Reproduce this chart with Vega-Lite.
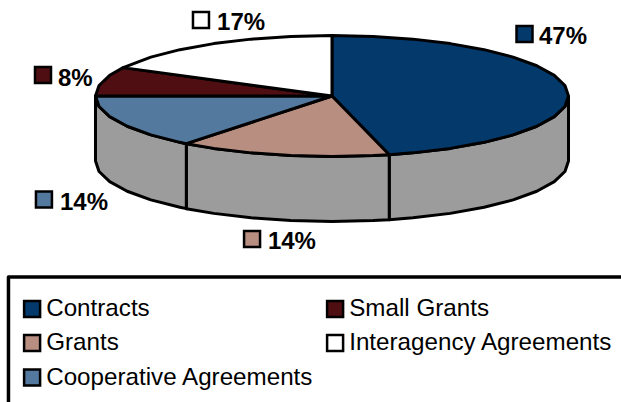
{"$schema":"https://vega.github.io/schema/vega-lite/v6.json","width":621,"height":402,"autosize":{"type":"none"},"padding":0,"background":"#ffffff","view":{"stroke":null},
"datasets":{
"walls":[
{"w":"A","s":1,"u":1,"v":0},{"w":"A","s":2,"u":0.985,"v":-0.174},{"w":"A","s":3,"u":0.94,"v":-0.342},{"w":"A","s":4,"u":0.866,"v":-0.5},{"w":"A","s":5,"u":0.766,"v":-0.643},{"w":"A","s":6,"u":0.643,"v":-0.766},{"w":"A","s":7,"u":0.5,"v":-0.866},{"w":"A","s":8,"u":0.342,"v":-0.94},{"w":"A","s":9,"u":0.242,"v":-0.97},
{"w":"A","s":10,"u":0.242,"v":-2.044},{"w":"A","s":11,"u":0.342,"v":-2.014},{"w":"A","s":12,"u":0.5,"v":-1.94},{"w":"A","s":13,"u":0.643,"v":-1.84},{"w":"A","s":14,"u":0.766,"v":-1.717},{"w":"A","s":15,"u":0.866,"v":-1.574},{"w":"A","s":16,"u":0.94,"v":-1.416},{"w":"A","s":17,"u":0.985,"v":-1.248},{"w":"A","s":18,"u":1,"v":-1.074},{"w":"A","s":19,"u":1,"v":0},
{"w":"B","s":1,"u":0.242,"v":-0.97},{"w":"B","s":2,"u":0.174,"v":-0.985},{"w":"B","s":3,"u":0,"v":-1},{"w":"B","s":4,"u":-0.174,"v":-0.985},{"w":"B","s":5,"u":-0.342,"v":-0.94},{"w":"B","s":6,"u":-0.5,"v":-0.866},{"w":"B","s":7,"u":-0.616,"v":-0.788},
{"w":"B","s":8,"u":-0.616,"v":-1.862},{"w":"B","s":9,"u":-0.5,"v":-1.94},{"w":"B","s":10,"u":-0.342,"v":-2.014},{"w":"B","s":11,"u":-0.174,"v":-2.059},{"w":"B","s":12,"u":0,"v":-2.074},{"w":"B","s":13,"u":0.174,"v":-2.059},{"w":"B","s":14,"u":0.242,"v":-2.044},{"w":"B","s":15,"u":0.242,"v":-0.97},
{"w":"C","s":1,"u":-0.616,"v":-0.788},{"w":"C","s":2,"u":-0.643,"v":-0.766},{"w":"C","s":3,"u":-0.766,"v":-0.643},{"w":"C","s":4,"u":-0.866,"v":-0.5},{"w":"C","s":5,"u":-0.94,"v":-0.342},{"w":"C","s":6,"u":-0.985,"v":-0.174},{"w":"C","s":7,"u":-1,"v":0},
{"w":"C","s":8,"u":-1,"v":-1.074},{"w":"C","s":9,"u":-0.985,"v":-1.248},{"w":"C","s":10,"u":-0.94,"v":-1.416},{"w":"C","s":11,"u":-0.866,"v":-1.574},{"w":"C","s":12,"u":-0.766,"v":-1.717},{"w":"C","s":13,"u":-0.643,"v":-1.84},{"w":"C","s":14,"u":-0.616,"v":-1.862},{"w":"C","s":15,"u":-0.616,"v":-0.788}
],
"slices":[
{"c":"Contracts","s":0,"u":0,"v":0},{"c":"Contracts","s":1,"u":0,"v":1},{"c":"Contracts","s":2,"u":0.174,"v":0.985},{"c":"Contracts","s":3,"u":0.342,"v":0.94},{"c":"Contracts","s":4,"u":0.5,"v":0.866},{"c":"Contracts","s":5,"u":0.643,"v":0.766},{"c":"Contracts","s":6,"u":0.766,"v":0.643},{"c":"Contracts","s":7,"u":0.866,"v":0.5},{"c":"Contracts","s":8,"u":0.94,"v":0.342},{"c":"Contracts","s":9,"u":0.985,"v":0.174},{"c":"Contracts","s":10,"u":1,"v":0},{"c":"Contracts","s":11,"u":0.985,"v":-0.174},{"c":"Contracts","s":12,"u":0.94,"v":-0.342},{"c":"Contracts","s":13,"u":0.866,"v":-0.5},{"c":"Contracts","s":14,"u":0.766,"v":-0.643},{"c":"Contracts","s":15,"u":0.643,"v":-0.766},{"c":"Contracts","s":16,"u":0.5,"v":-0.866},{"c":"Contracts","s":17,"u":0.342,"v":-0.94},{"c":"Contracts","s":18,"u":0.242,"v":-0.97},{"c":"Contracts","s":19,"u":0,"v":0},
{"c":"Grants","s":0,"u":0,"v":0},{"c":"Grants","s":1,"u":0.242,"v":-0.97},{"c":"Grants","s":2,"u":0.174,"v":-0.985},{"c":"Grants","s":3,"u":0,"v":-1},{"c":"Grants","s":4,"u":-0.174,"v":-0.985},{"c":"Grants","s":5,"u":-0.342,"v":-0.94},{"c":"Grants","s":6,"u":-0.5,"v":-0.866},{"c":"Grants","s":7,"u":-0.616,"v":-0.788},{"c":"Grants","s":8,"u":0,"v":0},
{"c":"Cooperative Agreements","s":0,"u":0,"v":0},{"c":"Cooperative Agreements","s":1,"u":-0.616,"v":-0.788},{"c":"Cooperative Agreements","s":2,"u":-0.643,"v":-0.766},{"c":"Cooperative Agreements","s":3,"u":-0.766,"v":-0.643},{"c":"Cooperative Agreements","s":4,"u":-0.866,"v":-0.5},{"c":"Cooperative Agreements","s":5,"u":-0.94,"v":-0.342},{"c":"Cooperative Agreements","s":6,"u":-0.985,"v":-0.174},{"c":"Cooperative Agreements","s":7,"u":-1,"v":0},{"c":"Cooperative Agreements","s":8,"u":0,"v":0},
{"c":"Small Grants","s":0,"u":0,"v":0},{"c":"Small Grants","s":1,"u":-1,"v":0},{"c":"Small Grants","s":2,"u":-0.985,"v":0.174},{"c":"Small Grants","s":3,"u":-0.94,"v":0.342},{"c":"Small Grants","s":4,"u":-0.883,"v":0.469},{"c":"Small Grants","s":5,"u":0,"v":0},
{"c":"Interagency Agreements","s":0,"u":0,"v":0},{"c":"Interagency Agreements","s":1,"u":-0.883,"v":0.469},{"c":"Interagency Agreements","s":2,"u":-0.766,"v":0.643},{"c":"Interagency Agreements","s":3,"u":-0.643,"v":0.766},{"c":"Interagency Agreements","s":4,"u":-0.5,"v":0.866},{"c":"Interagency Agreements","s":5,"u":-0.342,"v":0.94},{"c":"Interagency Agreements","s":6,"u":-0.174,"v":0.985},{"c":"Interagency Agreements","s":7,"u":0,"v":1},{"c":"Interagency Agreements","s":8,"u":0,"v":0}
],
"labels":[
{"c":"Contracts","share":"47%","pu":0.814,"pv":1.025,"tu":0.875,"tv":0.86},
{"c":"Grants","share":"14%","pu":-0.338,"pv":-2.364,"tu":-0.271,"tv":-2.529},
{"c":"Cooperative Agreements","share":"14%","pu":-1.218,"pv":-1.711,"tu":-1.15,"tv":-1.884},
{"c":"Small Grants","share":"8%","pu":-1.222,"pv":0.347,"tu":-1.159,"tv":0.165},
{"c":"Interagency Agreements","share":"17%","pu":-0.554,"pv":1.256,"tu":-0.486,"tv":1.091}
],
"frame":[{"s":1,"u":-1.368,"v":-5.2},{"s":2,"u":-1.368,"v":-2.992},{"s":3,"u":1.3,"v":-2.992}]
},
"encoding":{"x":{"type":"quantitative","scale":{"domain":[-1.4038,1.222],"nice":false,"zero":false},"axis":null},"y":{"type":"quantitative","scale":{"domain":[-5.0579,1.5868],"nice":false,"zero":false},"axis":null}},
"layer":[
{"data":{"name":"frame"},"mark":{"type":"line","stroke":"#000000","strokeWidth":3.5,"strokeJoin":"round"},"encoding":{"x":{"field":"u"},"y":{"field":"v"},"order":{"field":"s","type":"ordinal"}}},
{"data":{"name":"walls"},"mark":{"type":"line","fill":"#9c9c9c","stroke":"#000000","strokeWidth":3,"strokeJoin":"round"},"encoding":{"x":{"field":"u"},"y":{"field":"v"},"detail":{"field":"w"},"order":{"field":"s","type":"ordinal"}}},
{"data":{"name":"slices"},"mark":{"type":"line","stroke":"#000000","strokeWidth":3,"strokeJoin":"round"},"encoding":{"x":{"field":"u"},"y":{"field":"v"},"fill":{"field":"c","type":"nominal","scale":{"domain":["Contracts","Grants","Cooperative Agreements","Small Grants","Interagency Agreements"],"range":["#04396c","#b88e80","#54799f","#4f0e12","#ffffff"]},"legend":{"title":null,"orient":"none","legendX":20,"legendY":296.5,"direction":"vertical","columns":2,"padding":0,"symbolType":"square","symbolSize":256,"symbolStrokeColor":"#000000","symbolStrokeWidth":2.5,"symbolOpacity":1,"labelFont":"Liberation Sans","labelFontSize":24.2,"labelColor":"#000000","labelOffset":2,"labelLimit":400,"rowPadding":7.5,"columnPadding":8}},"order":{"field":"s","type":"ordinal"}}},
{"data":{"name":"labels"},"mark":{"type":"point","shape":"square","filled":true,"size":256,"stroke":"#000000","strokeWidth":2.5,"opacity":1},"encoding":{"x":{"field":"pu"},"y":{"field":"pv"},"fill":{"field":"c","type":"nominal"}}},
{"data":{"name":"labels"},"mark":{"type":"text","align":"left","baseline":"alphabetic","font":"Liberation Sans","fontWeight":"bold","fontSize":24,"color":"#000000"},"encoding":{"x":{"field":"tu"},"y":{"field":"tv"},"text":{"field":"share"}}}
]}
